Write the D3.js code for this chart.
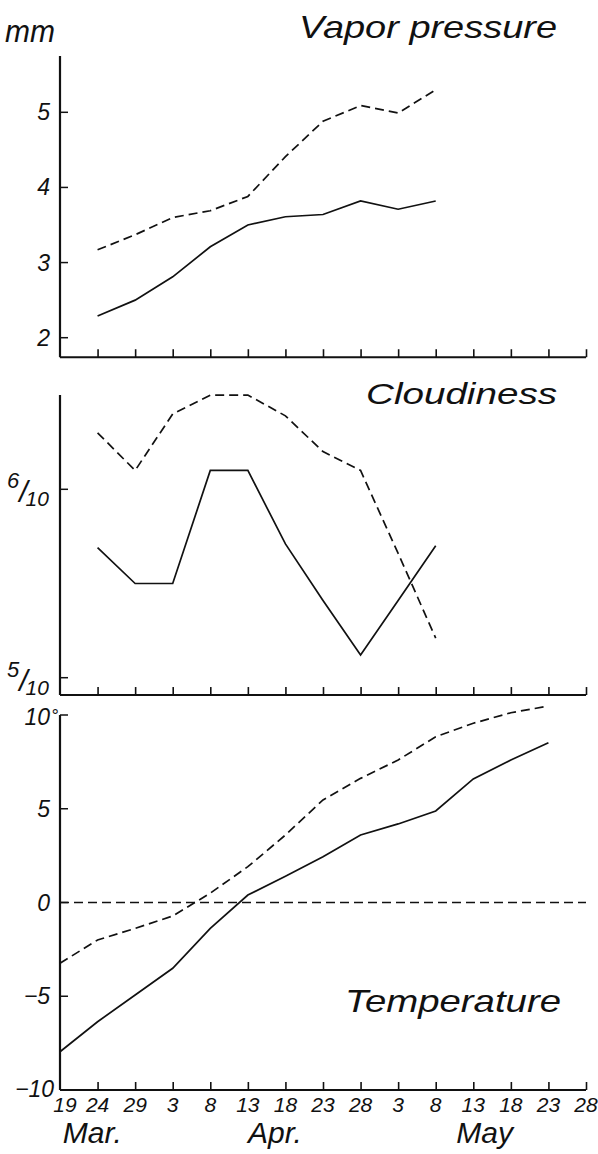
<!DOCTYPE html>
<html><head><meta charset="utf-8">
<script src="https://cdn.jsdelivr.net/npm/d3@7"></script>
<style>
html,body{margin:0;padding:0;background:#fff;}
text{font-family:"Liberation Sans",Arial,sans-serif;font-style:italic;fill:#111;}
</style></head>
<body>
<svg id="c" width="598" height="1154"></svg>
<script>
// ---- data ----
const dates = ["19","24","29","3","8","13","18","23","28","3","8","13","18","23","28"];
const months = ["Mar.","Apr.","May"];
const vaporTicks = [2,3,4,5];
const vaporDashed = [null,3.17,3.37,3.60,3.69,3.88,4.41,4.88,5.09,4.99,5.30,null,null,null,null];
const vaporSolid  = [null,2.29,2.50,2.81,3.21,3.50,3.61,3.64,3.82,3.71,3.82,null,null,null,null];
const cloudTicks = [5,6];
const cloudDashed = [null,6.30,6.10,6.40,6.50,6.50,6.39,6.20,6.10,5.66,5.21,null,null,null,null];
const cloudSolid  = [null,5.69,5.50,5.50,6.10,6.10,5.71,5.41,5.12,5.41,5.70,null,null,null,null];
const tempTicks = [-10,-5,0,5,10];
const tempDashed = [-3.24,-2.0,-1.38,-0.72,0.5,1.91,3.6,5.47,6.62,7.6,8.84,9.56,10.12,10.48,null];
const tempSolid  = [-7.96,-6.36,-4.93,-3.51,-1.38,0.4,1.4,2.44,3.6,4.19,4.88,6.59,7.6,8.52,null];
const tempZero   = [0,0,0,0,0,0,0,0,0,0,0,0,0,0,0];

const svg = d3.select("#c");
const x = d3.scaleLinear().domain([0, dates.length-1]).range([60, 586]);

function panel(y, yTop, yBottom){
  const g = svg.append("g");
  g.append("line").attr("x1",60).attr("x2",60).attr("y1",yTop).attr("y2",yBottom)
    .attr("stroke","#111").attr("stroke-width",2.2);
  const ax = d3.axisBottom(x).tickValues(d3.range(1,dates.length)).tickSizeInner(-8).tickSizeOuter(0)
    .tickFormat(()=>"");
  const xa = g.append("g").attr("transform",`translate(0,${yBottom})`).call(ax);
  xa.select(".domain").attr("stroke","#111").attr("stroke-width",2).attr("d",`M60,0H586`);
  xa.selectAll(".tick line").attr("stroke","#111").attr("stroke-width",1.6);
  xa.selectAll(".tick text").remove();
  return g;
}
function drawLine(g, y, data, dashed){
  const line = d3.line().defined(d=>d!=null).x((d,i)=>x(i)).y(d=>y(d));
  g.append("path").datum(data).attr("d",line).attr("fill","none")
    .attr("stroke","#111").attr("stroke-width",1.7)
    .attr("stroke-dasharray",dashed?"9,5":null);
}
function yTicks(g, y, ticks){
  ticks.forEach(t=>{
    g.append("line").attr("x1",60).attr("x2",68).attr("y1",y(t)).attr("y2",y(t))
      .attr("stroke","#111").attr("stroke-width",1.5);
  });
}

// ---- Vapor pressure ----
const yV = d3.scaleLinear().domain([2,5]).range([337.7,112.3]);
const gV = panel(yV, yV(5.75), yV(1.74));
yTicks(gV, yV, vaporTicks);
vaporTicks.forEach(t=>{
  gV.append("text").attr("x",50).attr("y",yV(t)+8).attr("text-anchor","end")
    .attr("font-size",23).text(t);
});
drawLine(gV, yV, vaporDashed, true);
drawLine(gV, yV, vaporSolid, false);
svg.append("text").attr("x",5).attr("y",42).attr("font-size",31).attr("textLength",50)
  .attr("lengthAdjust","spacingAndGlyphs").text("mm");
svg.append("text").attr("x",299).attr("y",38).attr("font-size",32).attr("textLength",258)
  .attr("lengthAdjust","spacingAndGlyphs").text("Vapor pressure");

// ---- Cloudiness ----
const yC = d3.scaleLinear().domain([5,6]).range([677.7,489.3]);
const gC = panel(yC, yC(6.5), yC(4.908));
yTicks(gC, yC, cloudTicks);
cloudTicks.forEach(t=>{
  const yy = yC(t);
  const tx = gC.append("text").attr("font-size",22).attr("x",7).attr("y",yy-1);
  tx.append("tspan").text(t);
  tx.append("tspan").attr("dx",0).attr("dy",14).attr("font-size",30).text("/");
  tx.append("tspan").attr("dx",-2).attr("dy",4).attr("font-size",21).text("10");
});
drawLine(gC, yC, cloudDashed, true);
drawLine(gC, yC, cloudSolid, false);
svg.append("text").attr("x",366).attr("y",404).attr("font-size",30).attr("textLength",191)
  .attr("lengthAdjust","spacingAndGlyphs").text("Cloudiness");

// ---- Temperature ----
const yT = d3.scaleLinear().domain([-10,10]).range([1090,715]);
const gT = panel(yT, yT(10), yT(-10));
yTicks(gT, yT, tempTicks.filter(t=>t>-10));
tempTicks.forEach(t=>{
  const xx = t===-10 ? 54 : 50;
  const yy = t===-10 ? yT(t)+7 : (t===10 ? yT(t)+10 : yT(t)+8);
  const lbl = t<0 ? "\u2212"+Math.abs(t) : String(t);
  gT.append("text").attr("x",xx).attr("y",yy).attr("text-anchor","end")
    .attr("font-size",23).text(lbl);
});
gT.append("text").attr("x",51).attr("y",722).attr("font-size",18).text("°");
drawLine(gT, yT, tempZero, true);
drawLine(gT, yT, tempDashed, true);
drawLine(gT, yT, tempSolid, false);
dates.forEach((d,i)=>{
  gT.append("text").attr("x",x(i)+(i===0?5:0)).attr("y",1112).attr("text-anchor","middle")
    .attr("font-size",21).text(d);
});
const monthCenters = [0.86, 5.72, 11.3];
months.forEach((m,i)=>{
  gT.append("text").attr("x",x(monthCenters[i])).attr("y",1143).attr("text-anchor","middle")
    .attr("font-size",30).text(m);
});
svg.append("text").attr("x",345).attr("y",1012).attr("font-size",32).attr("textLength",216)
  .attr("lengthAdjust","spacingAndGlyphs").text("Temperature");
</script>
</body></html>
